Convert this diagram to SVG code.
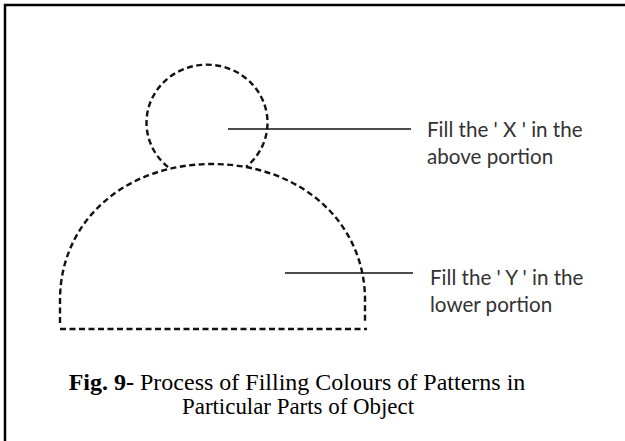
<svg xmlns="http://www.w3.org/2000/svg" width="625" height="441" viewBox="0 0 625 441">
<style>
.dash{fill:none;stroke:#111;stroke-width:2.4;stroke-dasharray:6 3.5}
.lead{stroke:#111;stroke-width:1.5}
.lbl{font-family:Lato,"Open Sans",sans-serif;font-size:20.6px;fill:#333}
.cap{font-family:"Liberation Serif",serif;font-size:24px;fill:#000}
</style>
<rect x="0" y="0" width="625" height="441" fill="#fff"/>
<rect x="5" y="5" width="660" height="480" fill="none" stroke="#000" stroke-width="2.5"/>
<g id="head">
<path class="dash" d="M 168 167 A 60.5 58 0 1 1 246 167"/>
</g>
<g id="body">
<path class="dash" d="M 60 323 L 60 300 C 60 222 124 164 212 164 C 300 164 365 222 365 300 L 365 323"/>
<path class="dash" d="M 60 329 L 367 329"/>
</g>
<g id="connectors">
<line class="lead" x1="228" y1="129" x2="411" y2="129"/>
<line class="lead" x1="285" y1="273" x2="413" y2="273"/>
</g>
<g id="label-x">
<text class="lbl" x="427" y="137">Fill the ' X ' in the</text>
<text class="lbl" x="427" y="164">above portion</text>
</g>
<g id="label-y">
<text class="lbl" x="430" y="285">Fill the ' Y ' in the</text>
<text class="lbl" x="430" y="312">lower portion</text>
</g>
<g id="caption">
<text class="cap" x="297" y="390" text-anchor="middle"><tspan font-weight="bold">Fig. 9-</tspan> Process of Filling Colours of Patterns in</text>
<text class="cap" x="298" y="414" text-anchor="middle" textLength="232" lengthAdjust="spacingAndGlyphs">Particular Parts of Object</text>
</g>
</svg>
